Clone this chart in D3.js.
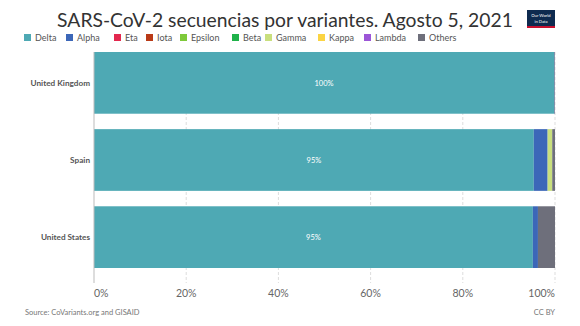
<!DOCTYPE html>
<html>
<head>
<meta charset="utf-8">
<script src="https://cdn.jsdelivr.net/npm/d3@7"></script>
<style>
  html, body { margin: 0; padding: 0; background: #fff; }
  svg { display: block; }
</style>
</head>
<body>
<svg id="chart" width="580" height="326"></svg>
<script>
// Share of sequences (%) by variant, per country
const countries = ["United Kingdom", "Spain", "United States"];
const variants = ["Delta", "Alpha", "Eta", "Iota", "Epsilon", "Beta", "Gamma", "Kappa", "Lambda", "Others"];
const variantColors = ["#4ea9b4", "#3c67b8", "#e3284e", "#b93a17", "#7ec93a", "#1fb24a", "#c9df7e", "#fbd443", "#9c56d7", "#6e6f7b"];
const deltaShare   = [99.8, 95.4, 95.2];
const alphaShare   = [0.1, 3.0, 1.1];
const etaShare     = [0, 0, 0];
const iotaShare    = [0, 0, 0];
const epsilonShare = [0, 0, 0];
const betaShare    = [0, 0, 0];
const gammaShare   = [0, 1.0, 0];
const kappaShare   = [0, 0, 0];
const lambdaShare  = [0, 0, 0];
const othersShare  = [0.1, 0.6, 3.7];
const xTicks = [0, 20, 40, 60, 80, 100];

const seriesValues = [deltaShare, alphaShare, etaShare, iotaShare, epsilonShare,
                      betaShare, gammaShare, kappaShare, lambdaShare, othersShare];

// Rows for the stack layout
const rows = countries.map((c, i) => {
  const r = { country: c };
  variants.forEach((v, j) => { r[v] = seriesValues[j][i]; });
  return r;
});

const svg = d3.select("#chart");
const font = "Lato, 'Open Sans', sans-serif";

const x = d3.scaleLinear().domain([0, 100]).range([94, 555]);
const y = d3.scaleBand().domain(countries).range([52, 268]).paddingInner(0.2).paddingOuter(0);
const color = d3.scaleOrdinal().domain(variants).range(variantColors);

// Title, sized so it spans the space left of the logo
const title = svg.append("text")
  .attr("x", 285).attr("y", 27)
  .attr("text-anchor", "middle")
  .attr("font-family", font)
  .attr("font-size", 21)
  .attr("fill", "#333")
  .text("SARS-CoV-2 secuencias por variantes. Agosto 5, 2021");
const natural = title.node().getComputedTextLength();
if (natural > 456) title.attr("font-size", 21 * 456 / natural);

// Logo
const logo = svg.append("g").attr("transform", "translate(527,10)");
logo.append("rect").attr("width", 28).attr("height", 18).attr("fill", "#0e2a4f");
logo.append("rect").attr("y", 16).attr("width", 28).attr("height", 2).attr("fill", "#c8102e");
logo.append("text").attr("x", 14).attr("y", 6.8).attr("text-anchor", "middle")
  .attr("font-family", font).attr("font-size", 4.2).attr("fill", "#fff").text("Our World");
logo.append("text").attr("x", 14).attr("y", 13.4).attr("text-anchor", "middle")
  .attr("font-family", font).attr("font-size", 4.2).attr("fill", "#fff").text("in Data");

// Legend
const legendX = [24, 66, 114, 146, 180, 232, 265, 318, 364, 418];
const legend = svg.append("g");
variants.forEach((v, i) => {
  const g = legend.append("g").attr("transform", `translate(${legendX[i]},34)`);
  g.append("rect").attr("width", 7).attr("height", 7).attr("fill", color(v));
  g.append("text").attr("x", 11).attr("y", 7)
    .attr("font-family", font).attr("font-size", 9).attr("fill", "#555").text(v);
});

// Gridlines
svg.append("g").selectAll("line")
  .data(xTicks.slice(1))
  .join("line")
  .attr("x1", d => x(d)).attr("x2", d => x(d))
  .attr("y1", 52).attr("y2", 283)
  .attr("stroke", "#ddd").attr("stroke-width", 1).attr("stroke-dasharray", "3,2");

// Stacked bars
const stacked = d3.stack().keys(variants)(rows);
svg.append("g").selectAll("g")
  .data(stacked)
  .join("g")
  .attr("fill", d => color(d.key))
  .selectAll("rect")
  .data(d => d)
  .join("rect")
  .attr("x", d => x(d[0]))
  .attr("y", d => y(d.data.country))
  .attr("width", d => Math.max(0, x(d[1]) - x(d[0])))
  .attr("height", y.bandwidth());

// Value labels on the Delta segment
svg.append("g").selectAll("text")
  .data(stacked[0])
  .join("text")
  .attr("x", d => (x(d[0]) + x(d[1])) / 2)
  .attr("y", d => y(d.data.country) + y.bandwidth() / 2 + 3)
  .attr("text-anchor", "middle")
  .attr("font-family", font).attr("font-size", 7.5).attr("fill", "#fff")
  .text(d => Math.round(d[1] - d[0]) + "%");

// Category labels
svg.append("g").selectAll("text")
  .data(countries)
  .join("text")
  .attr("x", 90)
  .attr("y", d => y(d) + y.bandwidth() / 2 + 3)
  .attr("text-anchor", "end")
  .attr("font-family", font).attr("font-weight", "bold").attr("font-size", 8.2).attr("fill", "#555")
  .text(d => d);

// Axis line at zero
svg.append("line")
  .attr("x1", x(0)).attr("x2", x(0)).attr("y1", 52).attr("y2", 283)
  .attr("stroke", "#bbb").attr("stroke-width", 1);

// Tick labels
svg.append("g").selectAll("text")
  .data(xTicks)
  .join("text")
  .attr("x", d => x(d))
  .attr("y", 297)
  .attr("text-anchor", (d, i) => i === 0 ? "start" : (i === xTicks.length - 1 ? "end" : "middle"))
  .attr("font-family", font).attr("font-size", 10.5).attr("fill", "#666")
  .text(d => d + "%");

// Footer
svg.append("text").attr("x", 25).attr("y", 315)
  .attr("font-family", font).attr("font-size", 7.5).attr("fill", "#777")
  .text("Source: CoVariants.org and GISAID");
svg.append("text").attr("x", 555).attr("y", 315).attr("text-anchor", "end")
  .attr("font-family", font).attr("font-size", 7.5).attr("fill", "#777")
  .text("CC BY");
</script>
</body>
</html>
